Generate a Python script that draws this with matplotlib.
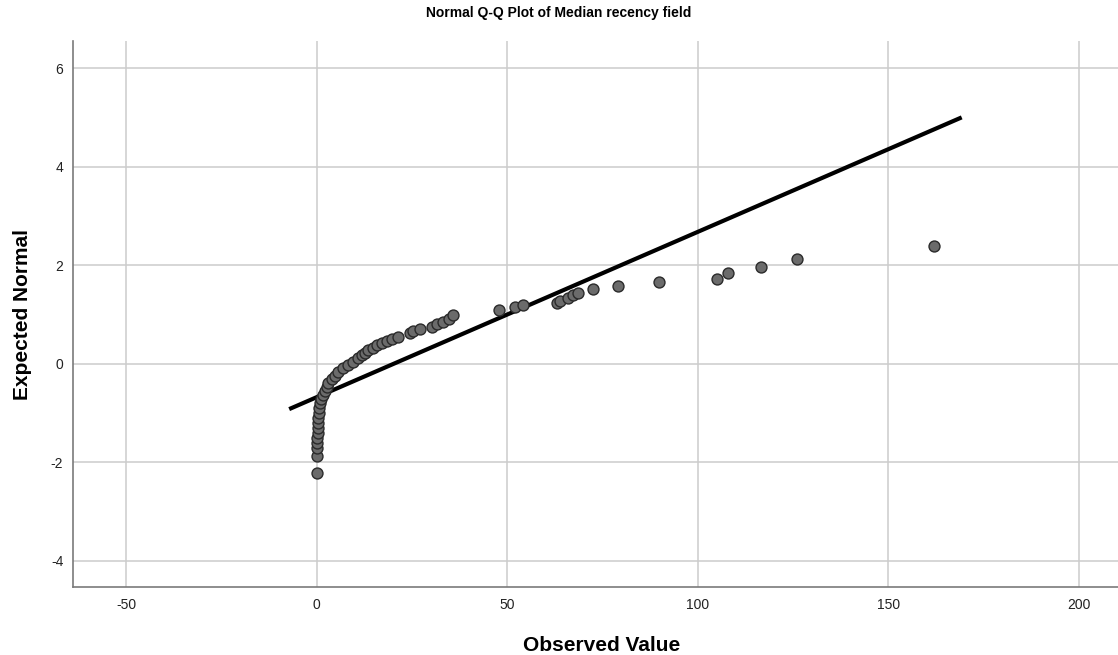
import matplotlib.pyplot as plt

plt.rcParams['font.family'] = ['Liberation Sans', 'DejaVu Sans']
plt.rcParams['axes.unicode_minus'] = False

# Observed values and their expected normal scores
observed = [0.1, 0.1, 0.1, 0.1, 0.1, 0.4, 0.4, 0.4, 0.4, 0.6,
            0.6, 0.9, 1.2, 1.7, 2.2, 2.6, 3.0, 4.0, 4.8, 5.6,
            6.9, 8.2, 9.5, 10.9, 11.9, 12.7, 13.5, 14.8, 15.8, 17.2,
            18.5, 19.8, 21.4, 24.5, 25.3, 27.1, 30.3, 31.6, 33.2, 34.6,
            35.8, 47.9, 52.0, 54.2, 63.0, 63.9, 66.0, 67.2, 68.5, 72.4,
            79.1, 89.9, 105.0, 108.0, 116.6, 126.0, 162.0]
expected = [-2.21, -1.87, -1.71, -1.61, -1.51, -1.40, -1.30, -1.20, -1.10, -1.00,
            -0.90, -0.80, -0.72, -0.64, -0.56, -0.47, -0.39, -0.31, -0.24, -0.17,
            -0.09, -0.03, 0.04, 0.11, 0.17, 0.22, 0.28, 0.33, 0.38, 0.43,
            0.47, 0.51, 0.55, 0.62, 0.66, 0.70, 0.75, 0.80, 0.85, 0.91,
            0.98, 1.10, 1.16, 1.20, 1.24, 1.28, 1.34, 1.39, 1.44, 1.51,
            1.58, 1.65, 1.73, 1.84, 1.96, 2.13, 2.40]

# reference line end points
line_x = [-7.2, 169.2]
line_y = [-0.92, 5.0]

x_ticks = [-50, 0, 50, 100, 150, 200]
y_ticks = [-4, -2, 0, 2, 4, 6]

fig = plt.figure(figsize=(11.18, 6.55), dpi=100)
ax = fig.add_axes([0.0653, 0.1038, 0.9347, 0.8336])

ax.plot(line_x, line_y, color='black', lw=3.0, solid_capstyle='butt', zorder=3)
ax.scatter(observed, expected, s=62, facecolor='#6b6b6b', edgecolor='#2a2a2a',
           linewidths=1.0, zorder=4)

ax.set_xlim(-63.9, 210.2)
ax.set_ylim(-4.53, 6.55)
ax.set_xticks(x_ticks)
ax.set_yticks(y_ticks)
ax.grid(True, color='#cccccc', lw=1.1)
ax.set_axisbelow(True)

for side in ['top', 'right']:
    ax.spines[side].set_visible(False)
for side in ['left', 'bottom']:
    ax.spines[side].set_color('#7a7a7a')
    ax.spines[side].set_linewidth(1.2)

ax.tick_params(axis='both', length=0, labelsize=10, colors='#222222')
ax.tick_params(axis='x', pad=8)
ax.tick_params(axis='y', pad=7)

ax.set_xlabel('Observed Value', fontsize=15, fontweight='bold', va='center')
ax.set_ylabel('Expected Normal', fontsize=15, fontweight='bold', va='center')
ax.xaxis.set_label_coords(0.506, -0.108)
ax.yaxis.set_label_coords(-0.048, 0.5)

fig.text(0.5, 0.980, 'Normal Q-Q Plot of Median recency field',
         ha='center', va='center', fontsize=10, fontweight='bold')

plt.savefig('out.png', dpi=100)
